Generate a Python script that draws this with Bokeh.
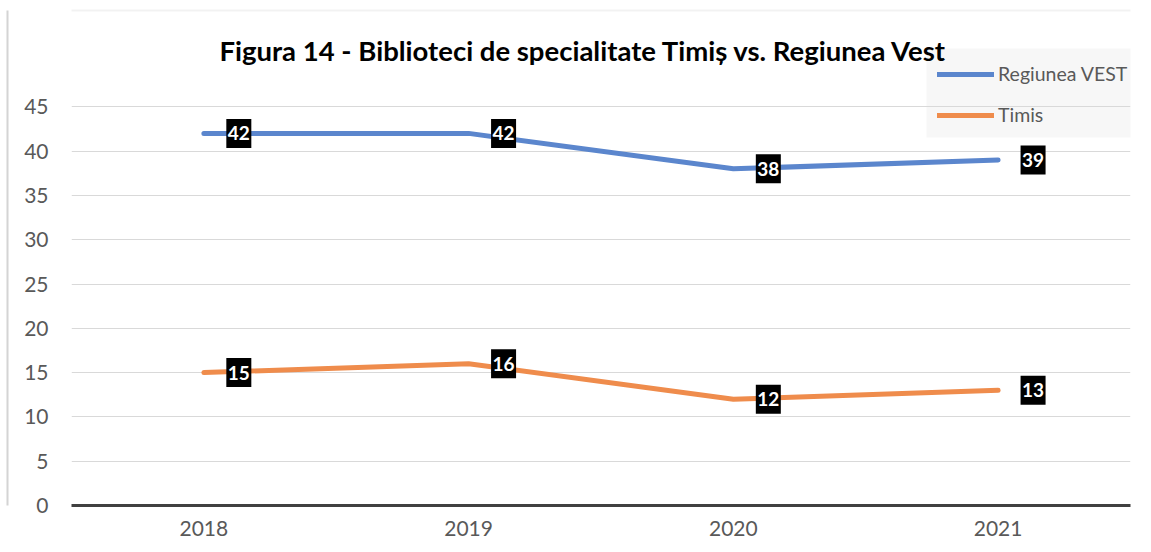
from bokeh.plotting import figure
from bokeh.models import (FactorRange, Range1d, Legend, LegendItem, Label, LinearAxis,
                          ColumnDataSource, BoxAnnotation, FixedTicker)
from bokeh.transform import dodge
from bokeh.embed import file_html
from bokeh.resources import INLINE
from bokeh.core.properties import value

years = ["2018", "2019", "2020", "2021"]
regiunea_vest = [42, 42, 38, 39]
timis = [15, 16, 12, 13]
series_names = ["Regiunea VEST", "Timis"]
y_ticks = [0, 5, 10, 15, 20, 25, 30, 35, 40, 45]
title_text = "Figura 14 - Biblioteci de specialitate Timiș vs. Regiunea Vest"

BLUE = "#5b86cd"
ORANGE = "#ef8c4c"
FONT = "Lato"
BORDER = "#d4d4d4"
LEGEND_BG = "#f7f7f7"

p = figure(width=1143, height=548, x_range=FactorRange(factors=years, range_padding=0),
           y_range=Range1d(0, 57), output_backend="svg", toolbar_location=None,
           min_border_left=71, min_border_right=13, min_border_top=0, min_border_bottom=43)
p.outline_line_color = None
p.background_fill_color = "white"
p.border_fill_color = "white"

src = ColumnDataSource(dict(year=years, rv=regiunea_vest, tm=timis,
                            rv_t=[str(v) for v in regiunea_vest],
                            tm_t=[str(v) for v in timis]))

r1 = p.line("year", "rv", source=src, line_color=BLUE, line_width=5,
            line_cap="round", line_join="round")
r2 = p.line("year", "tm", source=src, line_color=ORANGE, line_width=5,
            line_cap="round", line_join="round")

off = 0.132
for col, tcol in (("rv", "rv_t"), ("tm", "tm_t")):
    p.rect(x=dodge("year", off, range=p.x_range), y=col, source=src, width=25, height=29,
           width_units="screen", height_units="screen", fill_color="black", line_color=None)
    p.text(x=dodge("year", off, range=p.x_range), y=col, text=tcol, source=src,
           text_color="white", text_font=value(FONT), text_font_style="bold",
           text_font_size="19px", text_align="center", text_baseline="middle")

p.yaxis.ticker = FixedTicker(ticks=y_ticks)
p.yaxis.axis_line_color = None
p.yaxis.major_tick_line_color = None
p.yaxis.minor_tick_line_color = None
p.yaxis.major_tick_out = 0
p.yaxis.major_label_text_font = FONT
p.yaxis.major_label_text_font_size = "21px"
p.yaxis.major_label_text_color = "#595959"
p.yaxis.major_label_standoff = 23
p.yaxis.axis_label = " "
p.yaxis.axis_label_text_font_size = "10px"
p.yaxis.axis_label_standoff = 0

# outer chart border (left edge) drawn as an empty axis line
edge_axis = LinearAxis(ticker=FixedTicker(ticks=[]), axis_line_color=BORDER,
                       axis_line_width=2, major_tick_out=0, major_tick_in=0,
                       major_label_standoff=0, major_label_text_font_size="0px",
                       bounds=(0, 55.9))
p.add_layout(edge_axis, "left")

p.xaxis.axis_line_color = "#404040"
p.xaxis.axis_line_width = 3
p.xaxis.major_tick_line_color = None
p.xaxis.minor_tick_line_color = None
p.xaxis.major_tick_out = 0
p.xaxis.major_label_text_font = FONT
p.xaxis.major_label_text_font_size = "21px"
p.xaxis.major_label_text_color = "#595959"
p.xaxis.major_label_standoff = 15

p.xgrid.grid_line_color = None
p.ygrid.grid_line_color = "#d9d9d9"
p.ygrid.grid_line_width = 1

frame_border = BoxAnnotation(left=7, right=3000, top=10, bottom=3000,
                             left_units="canvas", right_units="canvas",
                             top_units="canvas", bottom_units="canvas",
                             fill_color=None, line_color=BORDER, line_width=2,
                             level="underlay")
# legend background, drawn beneath grid lines and title as in the reference
legend_bg = BoxAnnotation(left=926, right=3000, top=48, bottom=137,
                          left_units="canvas", right_units="canvas",
                          top_units="canvas", bottom_units="canvas",
                          fill_color=LEGEND_BG, fill_alpha=1, line_color=None,
                          level="underlay")
p.add_layout(frame_border)
p.add_layout(legend_bg)
p.center = [legend_bg] + [r for r in p.center if r is not legend_bg]

legend = Legend(items=[LegendItem(label=series_names[0], renderers=[r1]),
                       LegendItem(label=series_names[1], renderers=[r2])],
                location=(855, 368), background_fill_alpha=0,
                border_line_color="white", border_line_alpha=0,
                label_text_font=FONT, label_text_font_size="19.5px",
                label_text_color="#595959", glyph_width=57, glyph_height=20,
                label_height=20, label_standoff=4, spacing=18, padding=11, margin=0)
p.add_layout(legend, "center")

p.add_layout(Label(x=512, y=455, x_units="screen", y_units="screen", text=title_text,
                   text_font=FONT, text_font_size="27.5px", text_font_style="bold",
                   text_color="black", text_align="center", text_baseline="middle",
                   level="overlay"))

open("out.html", "w").write(file_html(p, INLINE))
